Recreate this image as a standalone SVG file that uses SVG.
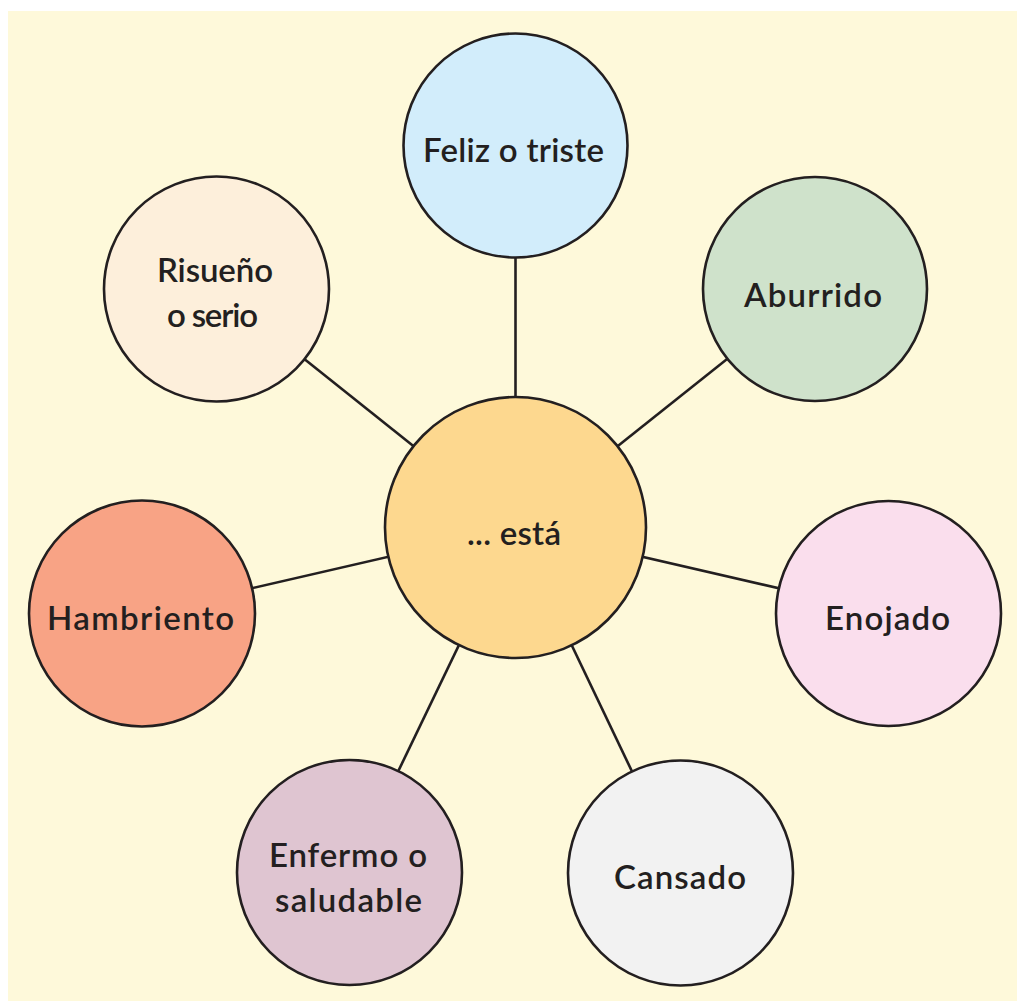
<svg xmlns="http://www.w3.org/2000/svg" width="1017" height="1001" viewBox="0 0 1017 1001">
<style>
.bg{fill:#fef9da}
.n{stroke:#231f20;stroke-width:2.6}
.c{stroke:#231f20;stroke-width:2.6;fill:none}
.t{font-family:Lato,"Open Sans",sans-serif;font-size:33px;font-weight:600;fill:#231f20;text-anchor:middle}
</style>
<rect width="1017" height="1001" fill="#ffffff"/>
<rect class="bg" x="8" y="11" width="1009" height="990"/>
<g id="connectors">
<line class="c" x1="515.5" y1="527.5" x2="515.5" y2="145.5"/>
<line class="c" x1="515.5" y1="527.5" x2="815" y2="289"/>
<line class="c" x1="515.5" y1="527.5" x2="888.5" y2="613.5"/>
<line class="c" x1="515.5" y1="527.5" x2="680.5" y2="873"/>
<line class="c" x1="515.5" y1="527.5" x2="349.5" y2="872.5"/>
<line class="c" x1="515.5" y1="527.5" x2="142" y2="613.5"/>
<line class="c" x1="515.5" y1="527.5" x2="216.5" y2="289"/>
</g>
<g id="center">
<circle class="n" cx="515.5" cy="527.5" r="130.5" fill="#fdd88f"/>
<text class="t" x="514" y="545" textLength="94" lengthAdjust="spacing">... está</text>
</g>
<g id="feliz">
<circle class="n" cx="515.5" cy="145.5" r="112" fill="#d2edfb"/>
<text class="t" x="513.5" y="162" textLength="181" lengthAdjust="spacing">Feliz o triste</text>
</g>
<g id="aburrido">
<circle class="n" cx="815" cy="289" r="112" fill="#cfe2cb"/>
<text class="t" x="813" y="307" textLength="138" lengthAdjust="spacing">Aburrido</text>
</g>
<g id="enojado">
<circle class="n" cx="888.5" cy="613.5" r="112.5" fill="#fadeed"/>
<text class="t" x="887.5" y="630" textLength="125" lengthAdjust="spacing">Enojado</text>
</g>
<g id="cansado">
<circle class="n" cx="680.5" cy="873" r="112.5" fill="#f2f2f2"/>
<text class="t" x="680" y="889" textLength="132" lengthAdjust="spacing">Cansado</text>
</g>
<g id="enfermo">
<circle class="n" cx="349.5" cy="872.5" r="112.5" fill="#dfc5d1"/>
<text class="t" x="348" y="867" textLength="158" lengthAdjust="spacing">Enfermo o</text>
<text class="t" x="348.5" y="912" textLength="147" lengthAdjust="spacing">saludable</text>
</g>
<g id="hambriento">
<circle class="n" cx="142" cy="613.5" r="113" fill="#f8a385"/>
<text class="t" x="140.5" y="630" textLength="187" lengthAdjust="spacing">Hambriento</text>
</g>
<g id="risueno">
<circle class="n" cx="216.5" cy="289" r="112.5" fill="#fdefdb"/>
<text class="t" x="215" y="282" textLength="116" lengthAdjust="spacing">Risueño</text>
<text class="t" x="212.5" y="327" textLength="91" lengthAdjust="spacing">o serio</text>
</g>
</svg>
